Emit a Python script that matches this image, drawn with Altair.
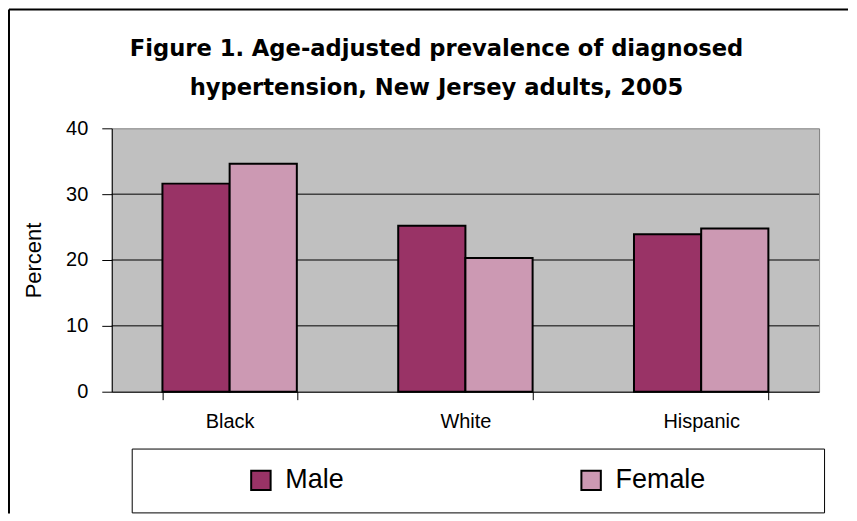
import altair as alt
import pandas as pd

groups = ["Black", "White", "Hispanic"]
sexes = ["Male", "Female"]
male = [31.6, 25.2, 23.9]
female = [34.6, 20.3, 24.8]
colors = ["#993366", "#CC99B3"]
y_ticks = [0, 10, 20, 30, 40]
grid_vals = [10, 20, 30]
title_lines = ["Figure 1. Age-adjusted prevalence of diagnosed",
               "hypertension, New Jersey adults, 2005"]

rows = []
for g, m, f in zip(groups, male, female):
    rows.append({"group": g, "sex": "Male", "pct": m})
    rows.append({"group": g, "sex": "Female", "pct": f})
df = pd.DataFrame(rows)
grid_df = pd.DataFrame({"pct": grid_vals})
one = pd.DataFrame({"a": [0]})

W, H = 709, 264
FONT = "Liberation Sans, Arial, sans-serif"
PAD = "\u2800" * 5

yscale = alt.Scale(domain=[0, 40], nice=False)
yaxis = alt.Axis(title="Percent", values=y_ticks, grid=False, tickSize=10,
                 labelPadding=14, domainColor="black", tickColor="black",
                 labelFontSize=20, labelColor="black", labelFont=FONT,
                 titleFont=FONT, titleFontSize=22, titleFontWeight="normal",
                 titleColor="black", titlePadding=20)

grid = alt.Chart(grid_df).mark_rule(color="black", strokeWidth=1).encode(
    y=alt.Y("pct:Q", scale=yscale, axis=yaxis, title="Percent"),
    x=alt.value(0), x2=alt.value(W),
)

bars = alt.Chart(df).mark_bar(stroke="black", strokeWidth=2).encode(
    x=alt.X("group:N", sort=groups,
            scale=alt.Scale(paddingInner=0.43, paddingOuter=0.215),
            axis=alt.Axis(title=None, labelAngle=0, tickBand="extent", tickSize=8,
                          labelPadding=12, domainColor="black", tickColor="black",
                          labelFontSize=20, labelColor="black", labelFont=FONT)),
    xOffset=alt.XOffset("sex:N", sort=sexes, scale=alt.Scale(paddingInner=0, paddingOuter=0)),
    y=alt.Y("pct:Q", scale=yscale, axis=yaxis, title="Percent"),
    color=alt.Color("sex:N", sort=sexes,
                    scale=alt.Scale(domain=sexes, range=colors),
                    legend=alt.Legend(title=None, orient="none", legendX=20, legendY=321,
                                      direction="horizontal", columns=2,
                                      strokeColor="black", padding=18,
                                      symbolType="square", symbolSize=380,
                                      symbolStrokeColor="black", symbolStrokeWidth=2,
                                      symbolOffset=98, labelOffset=11, labelLimit=400,
                                      labelFont=FONT, labelFontSize=27, labelColor="black",
                                      labelExpr="datum.label == 'Female' ? datum.label + '" + PAD + "' : datum.label",
                                      columnPadding=136)),
)

frame_left = alt.Chart(one).mark_rule(color="black", strokeWidth=2).encode(
    x=alt.value(-103), y=alt.value(-119), y2=alt.value(386))
frame_top = alt.Chart(one).mark_rule(color="black", strokeWidth=2).encode(
    x=alt.value(-103), x2=alt.value(738), y=alt.value(-119))

chart = alt.layer(grid, bars, frame_left, frame_top).properties(
    width=W, height=H, padding=0,
    title=alt.TitleParams(title_lines, font="DejaVu Sans, sans-serif", fontSize=22.7,
                          fontWeight="bold", lineHeight=39, anchor="middle",
                          frame="group", dx=-29, offset=-91, color="black"),
).configure_view(fill="#C0C0C0", stroke="#808080", strokeWidth=1)

chart.save("out.html", embed_options={"renderer": "svg", "actions": False})
